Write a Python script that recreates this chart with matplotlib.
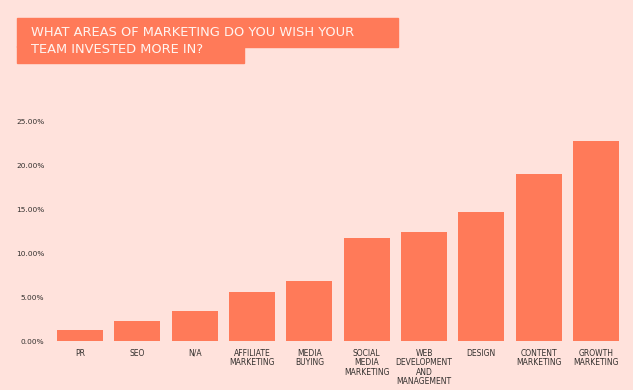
import numpy as np
import matplotlib.pyplot as plt
from matplotlib.patches import Rectangle
from matplotlib.ticker import FuncFormatter

# data
categories = ["PR", "SEO", "N/A", "AFFILIATE\nMARKETING", "MEDIA\nBUYING",
              "SOCIAL\nMEDIA\nMARKETING", "WEB\nDEVELOPMENT\nAND\nMANAGEMENT",
              "DESIGN", "CONTENT\nMARKETING", "GROWTH\nMARKETING"]
values = [1.25, 2.3, 3.4, 5.6, 6.8, 11.8, 12.4, 14.7, 19.1, 22.8]
yticks = [0, 5, 10, 15, 20, 25]

bg = "#ffe2dc"
orange = "#ff7a59"
txt = "#33302e"

W, H = 633, 390
fig = plt.figure(figsize=(W / 100, H / 100), dpi=100, facecolor=bg)

# title boxes (pixel coords from top-left)
def box(x0, y0, x1, y1):
    fig.patches.append(Rectangle((x0 / W, 1 - y1 / H), (x1 - x0) / W, (y1 - y0) / H,
                                 transform=fig.transFigure, color=orange, zorder=0))

box(17, 18, 398, 47)
box(17, 46, 244, 63)
fig.text(31 / W, 1 - 32.5 / H, "WHAT AREAS OF MARKETING DO YOU WISH YOUR",
         color="#fff4f0", fontsize=9.4, va="center", ha="left")
fig.text(31 / W, 1 - 49.5 / H, "TEAM INVESTED MORE IN?",
         color="#fff4f0", fontsize=9.4, va="center", ha="left")

ax = fig.add_axes([51.3 / W, 49 / H, (624.7 - 51.3) / W, (341 - 122) / H])
ax.set_facecolor(bg)
x = np.arange(len(categories))
ax.bar(x, values, width=0.8, color=orange)
ax.set_xlim(-0.5, len(categories) - 0.5)
ax.set_ylim(0, 25)
ax.set_yticks(yticks)
ax.yaxis.set_major_formatter(FuncFormatter(lambda v, p: f"{v:.2f}%"))
ax.set_xticks(x)
ax.set_xticklabels(categories, fontsize=5.5, color=txt, linespacing=1.08)
ax.tick_params(axis="y", labelsize=5.3, labelcolor=txt, length=0, pad=5)
ax.tick_params(axis="x", length=0, pad=5.5)
for s in ax.spines.values():
    s.set_visible(False)

fig.savefig("out.png", dpi=100, facecolor=bg)
